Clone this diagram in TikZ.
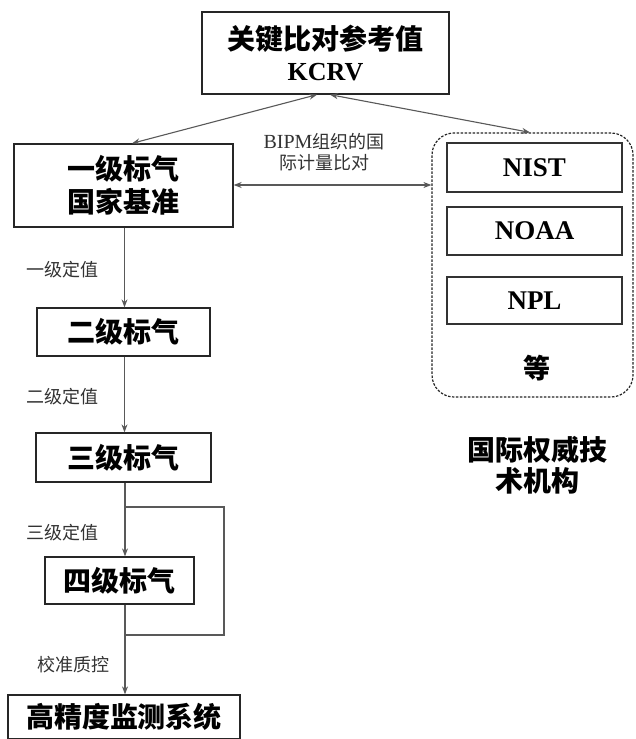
\documentclass[tikz,border=0pt]{standalone}
\usepackage{fontspec}
\setmainfont{Liberation Serif}
\newfontfamily\cjk{Noto Sans CJK SC}
\usetikzlibrary{arrows.meta,calc}
\begin{document}
\begin{tikzpicture}[x=1pt,y=-1pt,
  box/.style={draw=black!85,line width=1.3pt,rectangle,inner sep=0pt,align=center,font=\cjk\bfseries\fontsize{28}{34}\selectfont},
  ibox/.style={draw=black!80,line width=1.2pt,rectangle,inner sep=0pt,minimum width=175pt,font=\bfseries\fontsize{27}{30}\selectfont},
  lbl/.style={font=\cjk\fontsize{18}{21}\selectfont,text=black!80,align=center,inner sep=0pt},
  conn/.style={draw=black!65,line width=1.1pt},
  tip/.style={-{Stealth[length=8pt,width=6pt]}},
  dtip/.style={{Stealth[length=8pt,width=6pt]}-{Stealth[length=8pt,width=6pt]}}
]
\useasboundingbox (0,0) rectangle (635,739);
\fill[white] (0,0) rectangle (635,739);
% main boxes
\node[box,minimum width=247pt,minimum height=82pt] (kcrv) at (325.5,53) {关键比对参考值\\[-3pt]{\rmfamily\fontsize{26}{30}\selectfont KCRV}};
\node[box,minimum width=219pt,minimum height=83pt] (l1) at (123.5,185.5) {一级标气\\[-1pt]国家基准};
\node[box,minimum width=173pt,minimum height=48pt] (l2) at (123.5,332) {二级标气};
\node[box,minimum width=175pt,minimum height=49pt] (l3) at (123.5,457.5) {三级标气};
\node[box,minimum width=149pt,minimum height=47pt] (l4) at (119.5,580.5) {四级标气};
\node[box,minimum width=232pt,minimum height=44pt] (sys) at (124,717) {高精度监测系统};
% institution group
\node[draw=black!85,line width=1.2pt,dash pattern=on 2.5pt off 1.5pt,rounded corners=22pt,rectangle,minimum width=201pt,minimum height=264pt,inner sep=0pt] (grp) at (532.5,265) {};
\node[ibox,minimum height=49pt] (nist) at (534.5,167.5) {NIST};
\node[ibox,minimum height=48pt] (noaa) at (534.5,231) {NOAA};
\node[ibox,minimum height=47pt] (npl) at (534.5,300.5) {NPL};
\node[font=\cjk\bfseries\fontsize{27}{30}\selectfont,inner sep=0pt] (etc) at (537,368) {等};
\node[font=\cjk\bfseries\fontsize{28}{31}\selectfont,align=center,inner sep=0pt] (auth) at (537,465) {国际权威技\\术机构};
% labels
\node[lbl] (bipm) at (324,152) {{\rmfamily\fontsize{20}{21}\selectfont BIPM}组织的国\\际计量比对};
\node[lbl] (t1) at (62,270) {一级定值};
\node[lbl] (t2) at (63,397) {二级定值};
\node[lbl] (t3) at (62,533) {三级定值};
\node[lbl] (t4) at (73,665) {校准质控};
% connectors
\draw[conn,dtip] ([xshift=-8.5pt]kcrv.south) -- ([xshift=8.5pt]l1.north);
\draw[conn,dtip] ([xshift=4.5pt]kcrv.south) -- ([xshift=-2.5pt]grp.north);
\draw[conn,dtip] (l1.east |- 0,185) -- (grp.west |- 0,185);
\draw[conn,tip] ([xshift=1pt]l1.south) -- ([xshift=1pt]l2.north);
\draw[conn,tip] ([xshift=1pt]l2.south) -- ([xshift=1pt]l3.north);
\draw[conn,tip] ([xshift=1.5pt]l3.south) -- (l4.north -| 125,0);
\draw[conn,tip] (l4.south -| 125,0) -- (sys.north -| 125,0);
\coordinate (fa) at (125,507);
\coordinate (fb) at (125,635);
\draw[conn] (fa) -- ++(99,0) |- (fb);
\end{tikzpicture}
\end{document}
